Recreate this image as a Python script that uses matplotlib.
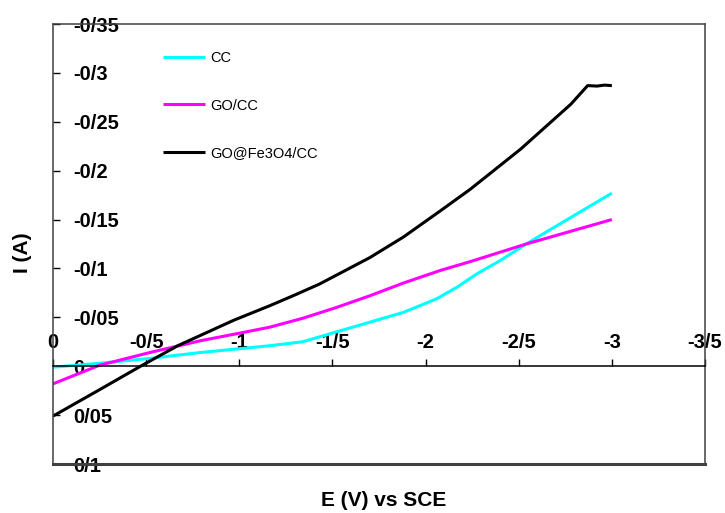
import matplotlib
matplotlib.use("Agg")
import matplotlib.pyplot as plt

plt.rcParams['font.family'] = ['Liberation Sans', 'DejaVu Sans']

# Data
cc_x = [0, -0.25, -0.52, -0.79, -1.06, -1.165, -1.34, -1.52, -1.70, -1.88, -2.06, -2.17, -2.28, -2.40, -2.54, -2.69, -3.0]
cc_y = [0.001, -0.003, -0.008, -0.014, -0.019, -0.021, -0.025, -0.035, -0.045, -0.055, -0.069, -0.081, -0.095, -0.108, -0.125, -0.142, -0.177]

go_x = [0, -0.25, -0.52, -0.79, -1.06, -1.165, -1.34, -1.52, -1.70, -1.88, -2.08, -2.24, -2.54, -3.0]
go_y = [0.018, -0.001, -0.014, -0.026, -0.036, -0.040, -0.049, -0.060, -0.072, -0.085, -0.098, -0.107, -0.125, -0.150]

fe_x = [0, -0.25, -0.47, -0.67, -0.97, -1.165, -1.3, -1.43, -1.52, -1.70, -1.88, -2.08, -2.24, -2.51, -2.78, -2.87, -2.92, -2.96, -3.0]
fe_y = [0.051, 0.024, 0.0, -0.021, -0.047, -0.062, -0.073, -0.084, -0.093, -0.111, -0.132, -0.159, -0.181, -0.222, -0.268, -0.287, -0.2865, -0.2875, -0.287]

series_labels = ['CC', 'GO/CC', 'GO@Fe3O4/CC']

xticks = [0, -0.5, -1, -1.5, -2, -2.5, -3, -3.5]
xtick_labels = ['0', '-0/5', '-1', '-1/5', '-2', '-2/5', '-3', '-3/5']
yticks = [-0.35, -0.3, -0.25, -0.2, -0.15, -0.1, -0.05, 0, 0.05, 0.1]
ytick_labels = ['-0/35', '-0/3', '-0/25', '-0/2', '-0/15', '-0/1', '-0/05', '0', '0/05', '0/1']

fig = plt.figure(figsize=(7.25, 5.13), dpi=100)
ax = fig.add_axes([53/725, 49/513, 652/725, 440/513])

for xs, ys, col, lab in [(cc_x, cc_y, '#00FFFF', series_labels[0]),
                         (go_x, go_y, '#FF00FF', series_labels[1]),
                         (fe_x, fe_y, 'black', series_labels[2])]:
    ax.plot(xs, ys, color=col, lw=2.2, label=lab, solid_joinstyle='round', solid_capstyle='butt')

ax.set_xlim(0, -3.5)
ax.set_ylim(0.1, -0.35)

spine_col = '#404040'
for s in ax.spines.values():
    s.set_color(spine_col)
    s.set_linewidth(1.1)
ax.spines['bottom'].set_position(('data', 0))
ax.spines['bottom'].set_color('black')
ax.axhline(0.1, color=spine_col, lw=2.2, clip_on=False, zorder=3)

ax.set_xticks(xticks)
ax.set_xticklabels(xtick_labels, fontweight='bold')
ax.set_yticks(yticks)
ax.set_yticklabels(ytick_labels, fontweight='bold')

ax.tick_params(axis='x', direction='in', length=5, width=1, pad=-10, labelsize=14.5, colors='black')
ax.tick_params(axis='y', direction='in', length=5, width=1, pad=-14.4, labelsize=14.5, colors='black')
for lab in ax.get_xticklabels():
    lab.set_verticalalignment('bottom')
for lab in ax.get_yticklabels():
    lab.set_horizontalalignment('left')

fig.text(384/725, 1 - 501/513, 'E (V) vs SCE', fontsize=15, fontweight='bold', ha='center', va='center')
fig.text(23/725, 1 - 253/513, 'I (A)', fontsize=15, fontweight='bold', rotation=90, ha='center', va='center')

leg = ax.legend(loc='upper left', bbox_to_anchor=((163-53)/652, (464-51)/440), frameon=False,
                fontsize=10.5, handlelength=2.9, handletextpad=0.35, labelspacing=2.3,
                borderpad=0, borderaxespad=0)

fig.savefig('out.png', dpi=100)
